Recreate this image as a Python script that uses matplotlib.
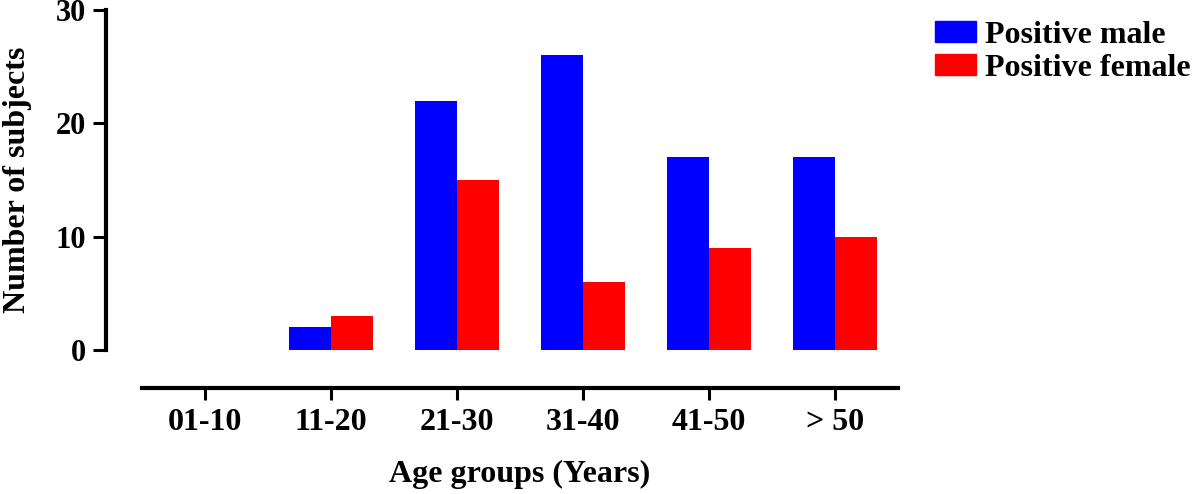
import matplotlib
matplotlib.use("Agg")
import matplotlib.pyplot as plt
import numpy as np
from matplotlib.patches import Patch

categories = ["01-10", "11-20", "21-30", "31-40", "41-50", "> 50"]
male = [0, 2, 22, 26, 17, 17]
female = [0, 3, 15, 6, 9, 10]
series_names = ["Positive male", "Positive female"]
colors = ["#0000FF", "#FF0000"]

plt.rcParams['font.family'] = ['Liberation Serif', 'DejaVu Serif']
plt.rcParams['font.weight'] = 'bold'

fig = plt.figure(figsize=(12, 4.94), dpi=100)
ax = fig.add_axes([142/1200, 1-350/494, 756/1200, 340/494])

x = np.arange(len(categories))
w = 0.33
ax.bar(x - w/2, male, width=w, color=colors[0], label=series_names[0])
ax.bar(x + w/2, female, width=w, color=colors[1], label=series_names[1])

ax.set_xlim(-0.5, len(categories) - 0.5)
ax.set_ylim(0, 30)
ax.set_yticks([0, 10, 20, 30])
ax.set_xticks(x)
ax.set_xticklabels(categories)
ax.tick_params(axis='y', labelsize=22, width=2.2, length=9.4, pad=5)
ax.tick_params(axis='x', labelsize=23, width=2.2, length=8.6, pad=6)
for lab in ax.get_yticklabels() + ax.get_xticklabels():
    lab.set_fontweight('bold')

for s in ['top', 'right']:
    ax.spines[s].set_visible(False)
ax.spines['left'].set_position(('outward', 26))
ax.spines['bottom'].set_position(('outward', 27))
ax.spines['left'].set_linewidth(3)
ax.spines['bottom'].set_linewidth(3)

ax.set_ylabel("Number of subjects", fontsize=23, fontweight='bold', labelpad=17)
ax.set_xlabel("Age groups (Years)", fontsize=23, fontweight='bold', labelpad=17)

handles = [Patch(color=c) for c in colors]
ax.legend(handles, series_names, loc='upper left', bbox_to_anchor=(935/1200, 1-21/494),
          bbox_transform=fig.transFigure, frameon=False,
          handlelength=1.28, handleheight=0.63, handletextpad=0.28, labelspacing=0.12,
          borderaxespad=0, borderpad=0, prop={'weight': 'bold', 'size': 23})

fig.savefig("out.png", dpi=100)
